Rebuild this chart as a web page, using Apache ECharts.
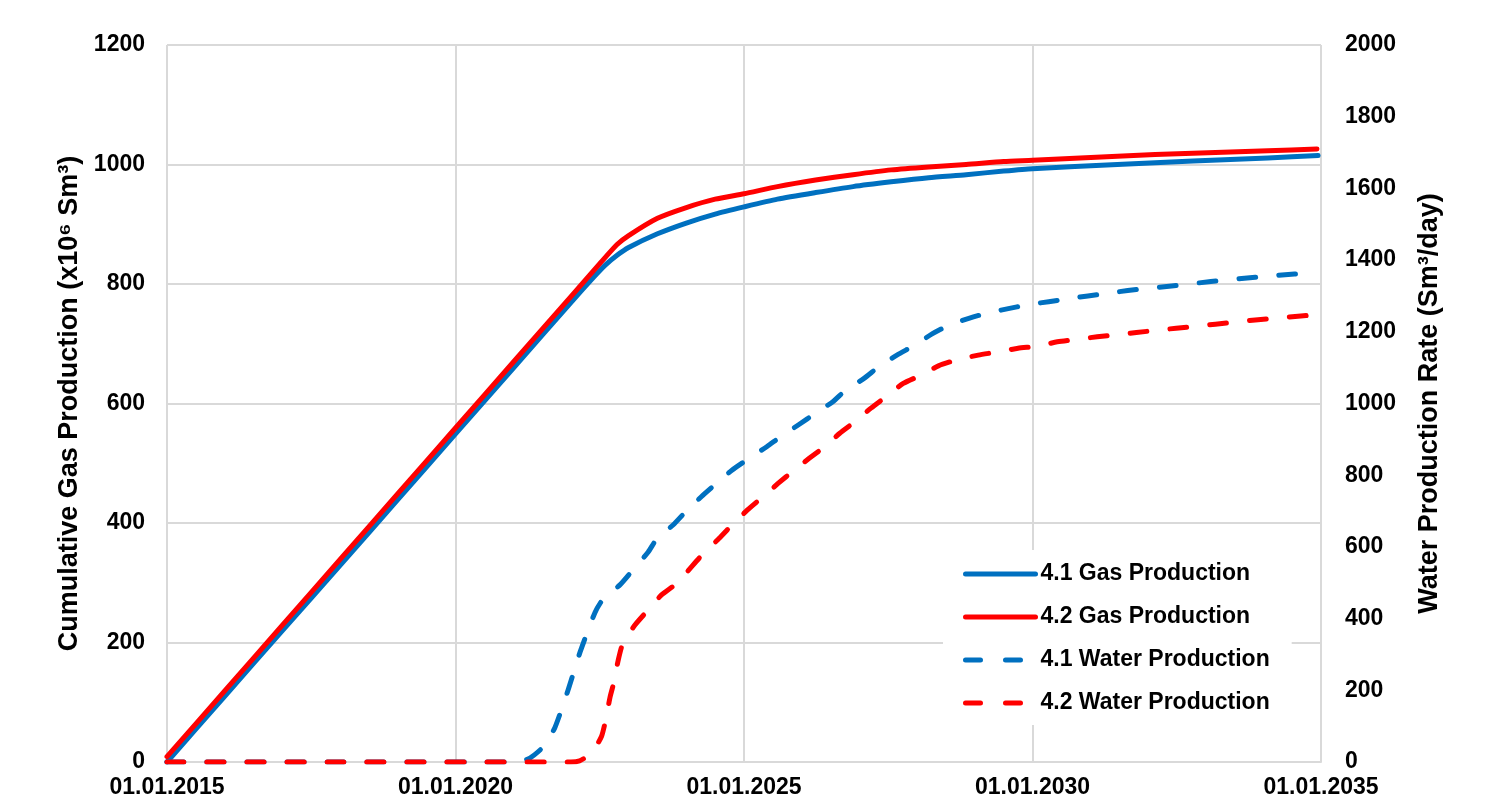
<!DOCTYPE html>
<html>
<head>
<meta charset="utf-8">
<script src="https://cdn.jsdelivr.net/npm/echarts@6/dist/echarts.min.js"></script>
<style>
html,body{margin:0;padding:0;background:#fff;}
#chart{width:1505px;height:800px;}
</style>
</head>
<body>
<div id="chart"></div>
<script>
// ---- data (x in decimal years) ----
const xTickYears = [2015, 2020, 2025, 2030, 2035];

const gas41Years = [2015, 2016, 2017, 2018, 2019, 2020, 2021, 2022, 2022.4, 2022.6, 2022.8, 2023, 2023.5, 2024, 2024.5, 2025, 2025.58, 2026.24, 2026.89, 2027.55, 2028.2, 2028.85, 2029.5, 2030, 2031.47, 2032.78, 2034.08, 2034.95];
const gas41 = [0, 110, 220, 329, 439, 549, 659, 769, 812, 832, 848, 861, 884, 902, 917, 929, 942, 953, 963, 971, 978, 983, 989, 993, 1000, 1006, 1011, 1015];

const gas42Years = [2015, 2016, 2017, 2018, 2019, 2020, 2021, 2022, 2022.5, 2022.8, 2023, 2023.5, 2024, 2024.5, 2025, 2025.58, 2026.24, 2026.89, 2027.55, 2028.2, 2028.85, 2029.5, 2030, 2031.47, 2032.78, 2034.08, 2034.93];
const gas42 = [9, 119, 229, 339, 449, 559, 669, 779, 834, 866, 881, 910, 928, 942, 951, 963, 974, 983, 991, 996, 1000, 1005, 1007, 1014, 1019, 1023, 1026];

const water41Years = [2015, 2018, 2021.1, 2021.29, 2021.52, 2021.72, 2021.95, 2022.16, 2022.42, 2022.56, 2022.85, 2023.05, 2023.34, 2023.5, 2023.77, 2024.0, 2024.26, 2024.53, 2024.79, 2025.06, 2025.4, 2025.63, 2025.94, 2026.24, 2026.54, 2026.77, 2027.08, 2027.34, 2027.65, 2027.96, 2028.26, 2028.56, 2028.91, 2029.21, 2029.56, 2029.9, 2030.28, 2030.96, 2031.65, 2032.41, 2033.09, 2033.86, 2034.54, 2034.9];
const water41 = [0, 0, 0, 11, 42, 95, 200, 307, 418, 455, 494, 531, 586, 625, 661, 700, 740, 778, 814, 844, 880, 907, 940, 973, 1005, 1038, 1070, 1103, 1135, 1163, 1194, 1219, 1238, 1252, 1264, 1275, 1284, 1300, 1315, 1328, 1340, 1352, 1361, 1366];

const water42Years = [2015, 2018, 2022.0, 2022.15, 2022.27, 2022.4, 2022.53, 2022.59, 2022.68, 2022.74, 2022.82, 2022.9, 2023.11, 2023.31, 2023.57, 2023.83, 2024.27, 2024.57, 2024.79, 2025.06, 2025.33, 2025.59, 2025.86, 2026.13, 2026.4, 2026.66, 2026.92, 2027.2, 2027.46, 2027.76, 2028.07, 2028.37, 2028.67, 2029.06, 2029.4, 2029.75, 2030.09, 2030.43, 2031.12, 2031.8, 2032.49, 2033.17, 2033.86, 2034.65, 2034.9];
const water42 = [0, 0, 0, 3, 15, 35, 71, 108, 182, 219, 284, 331, 382, 419, 466, 498, 577, 624, 661, 703, 740, 777, 813, 847, 880, 917, 949, 987, 1019, 1056, 1079, 1105, 1121, 1135, 1144, 1154, 1160, 1172, 1186, 1198, 1210, 1221, 1233, 1244, 1247];

const seriesNames = ['4.1 Gas Production', '4.2 Gas Production', '4.1 Water Production', '4.2 Water Production'];
const leftAxisName = 'Cumulative Gas Production (x10\u2076 Sm\u00B3)';
const rightAxisName = 'Water Production Rate (Sm\u00B3/day)';

// ---- chart ----
const BLUE = '#0070C0', RED = '#FF0000', GRID = '#d9d9d9';
const FONT = "'Liberation Sans', Arial, sans-serif";
const pair = (xs, ys) => xs.map((x, i) => [x, ys[i]]);

const chart = echarts.init(document.getElementById('chart'), null, {renderer: 'canvas'});

const lineSeries = (name, data, color, dashed, axis) => ({
  name, type: 'line', yAxisIndex: axis, data,
  showSymbol: false, symbol: 'none',
  smooth: 0.2,
  lineStyle: {color, width: 5, cap: 'round', join: 'round', type: dashed ? [17, 23] : 'solid'},
  itemStyle: {color},
  emphasis: {disabled: true},
  z: dashed ? 3 : 2
});

chart.setOption({
  animation: false,
  backgroundColor: '#fff',
  grid: {left: 167, right: 184, top: 45, bottom: 38, containLabel: false},
  legend: {
    orient: 'vertical',
    left: 943, top: 550,
    padding: [12, 22, 10, 20],
    backgroundColor: '#fff',
    itemWidth: 70, itemHeight: 20, itemGap: 19,
    itemStyle: {opacity: 0},
    lineStyle: {width: 5, cap: 'round'},
    data: [
      {name: seriesNames[0]},
      {name: seriesNames[1]},
      {name: seriesNames[2], lineStyle: {type: [15, 25], width: 5, cap: 'round'}},
      {name: seriesNames[3], lineStyle: {type: [15, 25], width: 5, cap: 'round'}}
    ],
    textStyle: {fontFamily: FONT, fontWeight: 'bold', fontSize: 23, color: '#000', lineHeight: 24}
  },
  xAxis: {
    type: 'value', min: xTickYears[0], max: xTickYears[xTickYears.length - 1], interval: 5,
    axisLine: {show: true, lineStyle: {color: GRID, width: 2}},
    axisTick: {show: false},
    splitLine: {show: true, lineStyle: {color: GRID, width: 2}},
    axisLabel: {
      margin: 14, fontFamily: FONT, fontWeight: 'bold', fontSize: 23, color: '#000',
      formatter: v => xTickYears.includes(v) ? '01.01.' + v : ''
    }
  },
  yAxis: [{
    type: 'value', min: 0, max: 1200, interval: 200,
    name: leftAxisName, nameLocation: 'middle', nameGap: 67, nameRotate: 90,
    nameTextStyle: {fontFamily: FONT, fontWeight: 'bold', fontSize: 27, color: '#000'},
    axisLine: {show: false}, axisTick: {show: false},
    splitLine: {show: true, lineStyle: {color: GRID, width: 2}},
    axisLabel: {margin: 22, fontFamily: FONT, fontWeight: 'bold', fontSize: 23, color: '#000', formatter: v => String(v)}
  }, {
    type: 'value', min: 0, max: 2000, interval: 200, position: 'right',
    name: rightAxisName, nameLocation: 'middle', nameGap: 95, nameRotate: 90,
    nameTextStyle: {fontFamily: FONT, fontWeight: 'bold', fontSize: 27, color: '#000'},
    axisLine: {show: false}, axisTick: {show: false},
    splitLine: {show: false},
    axisLabel: {margin: 24, fontFamily: FONT, fontWeight: 'bold', fontSize: 23, color: '#000', formatter: v => String(v)}
  }],
  series: [
    lineSeries(seriesNames[0], pair(gas41Years, gas41), BLUE, false, 0),
    lineSeries(seriesNames[1], pair(gas42Years, gas42), RED, false, 0),
    lineSeries(seriesNames[2], pair(water41Years, water41), BLUE, true, 1),
    lineSeries(seriesNames[3], pair(water42Years, water42), RED, true, 1)
  ]
});
</script>
</body>
</html>
